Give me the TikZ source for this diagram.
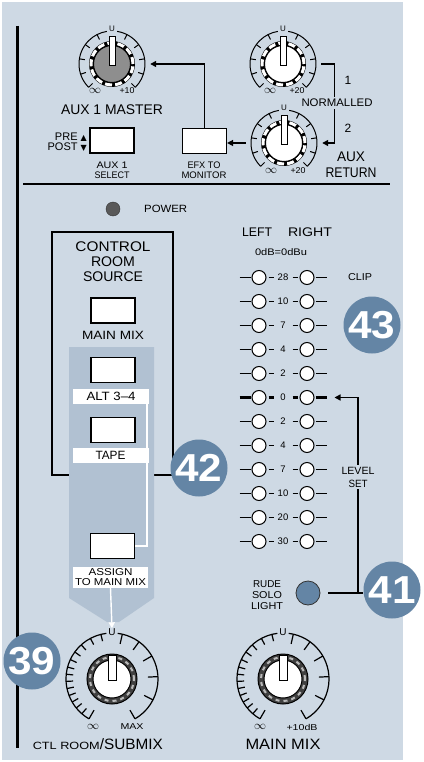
\documentclass[tikz,border=0pt]{standalone}
\usepackage{graphicx}
\usepackage{fontspec}
\setmainfont{Liberation Sans}
\newfontfamily\symfont{DejaVu Sans}
\usetikzlibrary{arrows.meta,calc}
\definecolor{panel}{HTML}{CED9E4}
\definecolor{srcblue}{HTML}{B1C1D2}
\definecolor{badgeblue}{HTML}{6485A5}
\definecolor{knobgray}{HTML}{8E8E8E}
\newcommand{\fsz}[2]{\fontsize{#1}{#2}\selectfont}
% stretch a label to the width it has on the panel
\newcommand{\fw}[2]{\resizebox{#1}{\height}{#2}}

\begin{document}
\begin{tikzpicture}[x=1pt, y=-1pt,
  lbl/.style={inner sep=0pt, align=center},
  btn/.style={rectangle, draw, fill=white, line width=1.2pt, minimum width=44pt, minimum height=25pt, inner sep=0pt},
  bar/.style={rectangle, fill=white, minimum width=76pt, minimum height=15pt, inner sep=0pt, align=center},
  led/.style={circle, draw, fill=white, line width=1pt, minimum size=14pt, inner sep=0pt},
  badge/.style={circle, fill=badgeblue, text=white, minimum size=57pt, inner sep=0pt, font=\fsz{39}{39}\bfseries},
  arr/.style={-{Triangle[length=6pt,width=6pt]}, line width=1.4pt},
  conn/.style={line width=1.4pt},
  warr/.style={-{Triangle[length=6pt,width=6pt]}, white, line width=1.4pt},
  pics/smallknob/.style={code={
    \draw[line width=1pt] (225:33pt) arc[start angle=225, end angle=99, radius=33pt];
    \draw[line width=1pt] (81:33pt) arc[start angle=81, end angle=-45, radius=33pt];
    \foreach \a in {225,198,171,144,117,63,36,9,-18,-45}
      \draw[line width=1pt] (\a:33pt) -- (\a:27.5pt);
    \fill[black] (0,0) circle[radius=23pt];
    \draw[white, line width=3pt, dash pattern=on 7pt off 3.2pt] (0,0) circle[radius=21pt];
    \draw[fill=#1, line width=1pt] (0,0) circle[radius=18.5pt];
    \draw[fill=white, line width=1pt] (-3,2) rectangle (3,-27);
    \node[circle, minimum size=76pt, inner sep=0pt] (-ring) at (0,0) {};
    \node[lbl, font=\fsz{8}{8}] (-u) at (90:35pt) {U};
  }},
  pics/bigknob/.style={code={
    \draw[line width=1.2pt] (240:46pt) arc[start angle=240, end angle=97, radius=46pt];
    \draw[line width=1.2pt] (83:46pt) arc[start angle=83, end angle=-60, radius=46pt];
    \foreach \a in {229,219,210,201,192,183,174,165,155,144,132,118,104}
      \draw[line width=1.2pt] (\a:46pt) -- (\a:39pt);
    \foreach \a in {240,77,54,30,3,-27,-60}
      \draw[line width=1.2pt] (\a:46pt) -- (\a:36pt);
    \draw[fill=black!75, line width=1pt] (0,0) circle[radius=25pt];
    \draw[gray!55, line width=2pt, dash pattern=on 4pt off 4pt] (0,0) circle[radius=22pt];
    \draw[fill=white, line width=1pt] (0,0) circle[radius=19pt];
    \draw[fill=white, line width=1pt] (-4,1) rectangle (4,-24);
    \node[lbl, font=\fsz{10}{10}] (-u) at (90:47pt) {U};
  }}
]
  % panel
  \fill[white] (0,0) rectangle (423,762);
  \fill[panel] (2,2) rectangle (403,760);
  \draw[line width=3pt] (17,26) -- (17,748);
  \draw[line width=2.4pt] (23,184) -- (390,184);

  % aux section
  \pic (am) at (112,64) {smallknob=knobgray};
  \pic (ar1) at (283,64) {smallknob=white};
  \pic (ar2) at (284,143) {smallknob=white};
  \node[lbl, font=\fsz{12}{12}] (aminf) at (95,91) {$\infty$};
  \node[lbl, font=\fsz{8.5}{8.5}] (ammax) at (127,91) {\fw{15pt}{+10}};
  \node[lbl, font=\fsz{12}{12}] (ar1inf) at (270,91) {$\infty$};
  \node[lbl, font=\fsz{8.5}{8.5}] (ar1max) at (297,91) {\fw{15pt}{+20}};
  \node[lbl, font=\fsz{12}{12}] (ar2inf) at (271,171) {$\infty$};
  \node[lbl, font=\fsz{8.5}{8.5}] (ar2max) at (298,171) {\fw{15pt}{+20}};
  \node[lbl, font=\fsz{14}{14}] (amlbl) at (112,110) {\fw{102pt}{AUX 1 MASTER}};

  \node[btn] (sel) at (112,140.5) {};
  \node[btn] (efx) at (204.5,141) {};
  \node[lbl, font=\fsz{9.5}{10}] (sellbl) at (112,170) {\fw{31pt}{AUX 1}\\\fw{35pt}{SELECT}};
  \node[lbl, font=\fsz{9.5}{10}] (efxlbl) at (204,170) {\fw{33pt}{EFX TO}\\\fw{45pt}{MONITOR}};
  \node[lbl, font=\fsz{11}{10.5}, align=right, anchor=east] (prepost) at (87,142)
    {PRE {\symfont\fsz{8}{8}▲}\\POST {\symfont\fsz{8}{8}▼}};

  \draw[arr] (ar1-ring.east) -- ++(13,0) |- (ar2-ring.east);
  \draw[arr] (ar2-ring.west) -- (ar2-ring.west -| efx.east);
  \draw[arr] (efx.north) |- (am-ring.east);
  \node[lbl, font=\fsz{12}{12}] (one) at (348,80) {1};
  \node[lbl, font=\fsz{11}{11}, fill=panel, inner ysep=2pt] (norm) at (337,103) {\fw{71pt}{NORMALLED}};
  \node[lbl, font=\fsz{12}{12}] (two) at (348,128) {2};
  \node[lbl, font=\fsz{14}{16}] (auxret) at (351,165) {\fw{28pt}{AUX}\\\fw{51pt}{RETURN}};

  % control room source
  \node[circle, fill=black!65, draw=black!80, minimum size=14pt, inner sep=0pt] (power) at (113,209) {};
  \node[lbl, font=\fsz{10.5}{10.5}, anchor=west] (powerlbl) at (144,209) {\fw{43pt}{POWER}};
  \draw[line width=1.2pt] (52,232) rectangle (173,475);
  \fill[srcblue] (69,347) -- (154,347) -- (154,598) -- (119,622) -- (107,622) -- (69,598) -- cycle;
  \node[lbl, font=\fsz{14}{15}] (crs) at (113,262) {\fw{75pt}{CONTROL}\\\fw{44pt}{ROOM}\\\fw{60pt}{SOURCE}};
  \node[btn] (mainmix) at (113,310.5) {};
  \node[lbl, font=\fsz{12}{12}] (mainmixlbl) at (113,335) {\fw{62pt}{MAIN MIX}};
  \node[btn] (alt) at (113,370) {};
  \node[bar, font=\fsz{12}{12}] (altlbl) at (111,396.5) {\fw{49pt}{ALT 3–4}};
  \node[btn] (tape) at (113,430) {};
  \node[bar, font=\fsz{12}{12}] (tapelbl) at (110.5,455.5) {\fw{30pt}{TAPE}};
  \node[btn] (assign) at (112.5,546) {};
  \node[bar, font=\fsz{10}{10}, minimum height=21pt, minimum width=75pt] (assignlbl) at (110.5,577.5)
    {\fw{44pt}{ASSIGN}\\\fw{71pt}{TO MAIN MIX}};
  \draw[white, line width=2pt] (assign.east) -| ([xshift=-2pt]altlbl.south east);

  % meter
  \node[lbl, font=\fsz{12.5}{12.5}] (left) at (257,232) {\fw{30pt}{LEFT}};
  \node[lbl, font=\fsz{12.5}{12.5}] (right) at (310,232) {\fw{44pt}{RIGHT}};
  \node[lbl, font=\fsz{9.5}{9.5}] (zerodb) at (281,252) {\fw{52pt}{0dB=0dBu}};
  \foreach \v [count=\i from 0] in {28,10,7,4,2,0,2,4,7,10,20,30}{
    \pgfmathsetmacro\yy{277.5+24*\i}
    \ifnum\i=5 \def\lw{2.6}\else\def\lw{1}\fi
    \node[led] (ml\i) at (259,\yy) {};
    \node[led] (mr\i) at (307,\yy) {};
    \node[lbl, font=\fsz{9.5}{9.5}] (mv\i) at (283,\yy) {\v};
    \draw[line width=\lw pt] ([xshift=-12pt]ml\i.west) -- ([xshift=-1pt]ml\i.west);
    \draw[line width=\lw pt] ([xshift=2pt]ml\i.east) -- ([xshift=7pt]ml\i.east);
    \draw[line width=\lw pt] ([xshift=-7pt]mr\i.west) -- ([xshift=-2pt]mr\i.west);
    \draw[line width=\lw pt] ([xshift=1pt]mr\i.east) -- ([xshift=12pt]mr\i.east);
  }
  \node[lbl, font=\fsz{10}{10}] (clip) at (360,277) {\fw{24pt}{CLIP}};

  % rude solo light
  \node[circle, fill=badgeblue, draw=black!80, line width=0.8pt, minimum size=24pt, inner sep=0pt] (rude) at (308,593) {};
  \node[lbl, font=\fsz{10}{11}] (rudelbl) at (267,595) {\fw{28pt}{RUDE}\\\fw{30pt}{SOLO}\\\fw{32pt}{LIGHT}};
  \node[badge] (b41) at (392,590) {\fw{47pt}{41}};
  \coordinate (lsc) at (358,593);
  \draw[conn] ([xshift=8pt]rude.east) -- (b41.west |- rude.east);
  \draw[arr] (lsc) |- ([xshift=20pt]mr5.east);
  \node[lbl, font=\fsz{10.5}{13}, fill=panel, inner ysep=2pt] (lvlset) at (358,477) {\fw{33pt}{LEVEL}\\\fw{19pt}{SET}};

  % output knobs
  \pic (ctl) at (112,679) {bigknob};
  \pic (mm) at (283,679) {bigknob};
  \draw[warr] (assignlbl.south) -- (ctl-u.north);
  \node[lbl, font=\fsz{12}{12}] (ctlinf) at (93,727) {$\infty$};
  \node[lbl, font=\fsz{8.5}{8.5}] (ctlmax) at (132,727) {\fw{23pt}{MAX}};
  \node[lbl, font=\fsz{12}{12}] (mminf) at (260,727) {$\infty$};
  \node[lbl, font=\fsz{8.5}{8.5}] (mmmax) at (302,727) {\fw{31pt}{+10dB}};
  \node[lbl, font=\fsz{15}{15}, anchor=base east] (ctllbl) at (163,749)
    {{\fsz{10.5}{11}\fw{67pt}{CTL ROOM}}\fw{63pt}{/SUBMIX}};
  \node[lbl, font=\fsz{15}{15}, anchor=base] (mmlbl) at (283,749) {\fw{75pt}{MAIN MIX}};

  % callouts
  \node[badge] (b43) at (372,325) {\fw{47pt}{43}};
  \node[badge] (b42) at (199,468) {\fw{47pt}{42}};
  \node[badge] (b39) at (32,661) {\fw{47pt}{39}};
\end{tikzpicture}
\end{document}
